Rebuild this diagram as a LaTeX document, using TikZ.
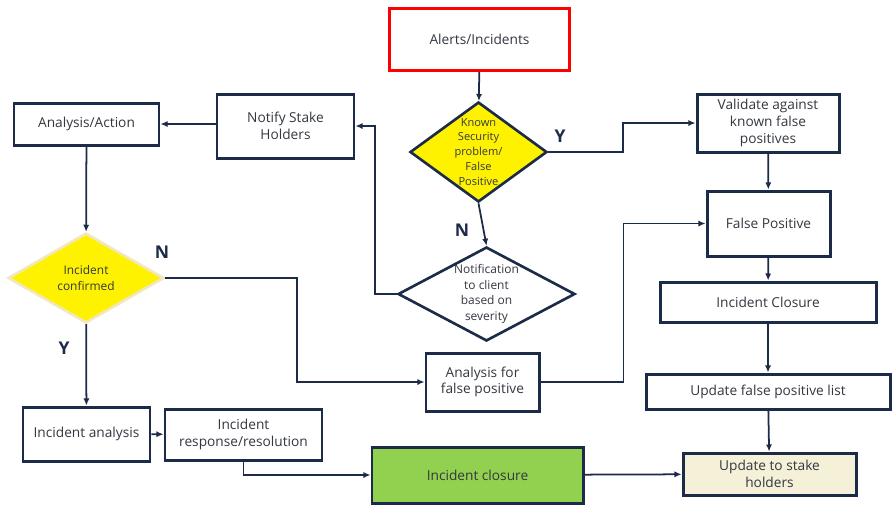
\documentclass[tikz,border=0pt]{standalone}
\usepackage{fontspec}
\setmainfont{Open Sans}
\usetikzlibrary{shapes.geometric,arrows.meta}
\definecolor{navy}{HTML}{1B2B48}
\definecolor{textgray}{HTML}{333840}
\definecolor{leafgreen}{HTML}{92D050}
\definecolor{cream}{HTML}{F5F0D8}
\definecolor{palegold}{HTML}{F2E8C0}
\newcommand{\pxu}{0.02cm}

\begin{document}
\begin{tikzpicture}[x=0.02cm,y=-0.02cm,
    box/.style={draw=navy,line width=1.7pt,fill=white,align=center,inner sep=0pt,
        text=textgray,font=\fontsize{7.8}{9.4}\selectfont},
    choice/.style={diamond,draw=navy,line width=1.5pt,fill=yellow,align=center,inner sep=-2.5pt,
        text=textgray,font=\fontsize{6.8}{8.8}\selectfont},
    link/.style={draw=navy,line width=1pt,-{Latex[length=4pt,width=3.5pt]}},
    yn/.style={text=navy,font=\bfseries\fontsize{10}{12}\selectfont}]
    \useasboundingbox (0,0) rectangle (892,505);
    \node[box,draw=red,minimum width=180*\pxu,minimum height=62*\pxu] (alerts) at (479.5,39.5) {Alerts/Incidents};
    \node[choice,aspect=1.37,minimum width=137*\pxu,minimum height=100*\pxu,font=\fontsize{6.3}{8.5}\selectfont] (known) at (478.5,152) {Known\\Security\\problem/\\False\\Positive};
    \node[box,minimum width=142*\pxu,minimum height=58*\pxu,font=\fontsize{7.8}{9.6}\selectfont] (validate) at (768,123) {Validate against\\known false\\positives};
    \node[box,minimum width=123*\pxu,minimum height=65*\pxu] (falsepos) at (768.5,223.5) {False Positive};
    \node[box,minimum width=216*\pxu,minimum height=40*\pxu] (closure) at (768,302) {Incident Closure};
    \node[box,minimum width=244*\pxu,minimum height=35*\pxu] (updlist) at (768,391.5) {Update false positive list};
    \node[box,fill=cream,minimum width=173*\pxu,minimum height=42*\pxu] (updstake) at (769.5,474) {Update to stake\\holders};
    \node[box,minimum width=137*\pxu,minimum height=64*\pxu] (notify) at (285.5,126) {Notify Stake\\Holders};
    \node[box,minimum width=145*\pxu,minimum height=42*\pxu] (analysis) at (86.5,124) {Analysis/Action};
    \node[choice,draw=palegold,aspect=1.73,minimum width=156*\pxu,minimum height=90*\pxu] (confirmed) at (86,278) {Incident\\confirmed};
    \node[choice,fill=white,aspect=1.88,minimum width=177*\pxu,minimum height=94*\pxu] (notif) at (486.5,294) {Notification\\to client\\based on\\severity};
    \node[box,minimum width=113*\pxu,minimum height=58*\pxu] (afp) at (482.5,382) {Analysis for\\false positive};
    \node[box,minimum width=127*\pxu,minimum height=54*\pxu] (ianalysis) at (86.5,434) {Incident analysis};
    \node[box,minimum width=157*\pxu,minimum height=51*\pxu] (response) at (243.5,434.5) {Incident\\response/resolution};
    \node[box,fill=leafgreen,minimum width=211*\pxu,minimum height=56*\pxu] (green) at (477.5,475) {Incident closure};
    \node[yn] (yknown) at (560,136) {Y};
    \node[yn] (nknown) at (462,230) {N};
    \node[yn] (nconf) at (162,252) {N};
    \node[yn] (yconf) at (64,348) {Y};
    \draw[link] (alerts) -- (known);
    \draw[link] (known.east) -- ++(75,0) |- (validate.west);
    \draw[link] (known.south) -- (notif.north);
    \draw[link] (notif.west) -- ++(-22,0) |- (notify.east);
    \draw[link] (notify.west |- analysis.east) -- (analysis.east);
    \draw[link] (analysis) -- (confirmed);
    \draw[link] (confirmed.east) -- ++(132,0) |- (afp.west);
    \draw[link] (confirmed) -- (ianalysis);
    \draw[link] (ianalysis) -- (response);
    \draw[link] (response.south) |- (green.west);
    \draw[link] (afp.east) -- ++(83,0) |- (falsepos.west);
    \draw[link] (validate) -- (falsepos);
    \draw[link] (falsepos) -- (closure);
    \draw[link] (closure) -- (updlist);
    \draw[link] (updlist) -- (updstake);
    \draw[link] (green) -- (updstake);
\end{tikzpicture}
\end{document}
